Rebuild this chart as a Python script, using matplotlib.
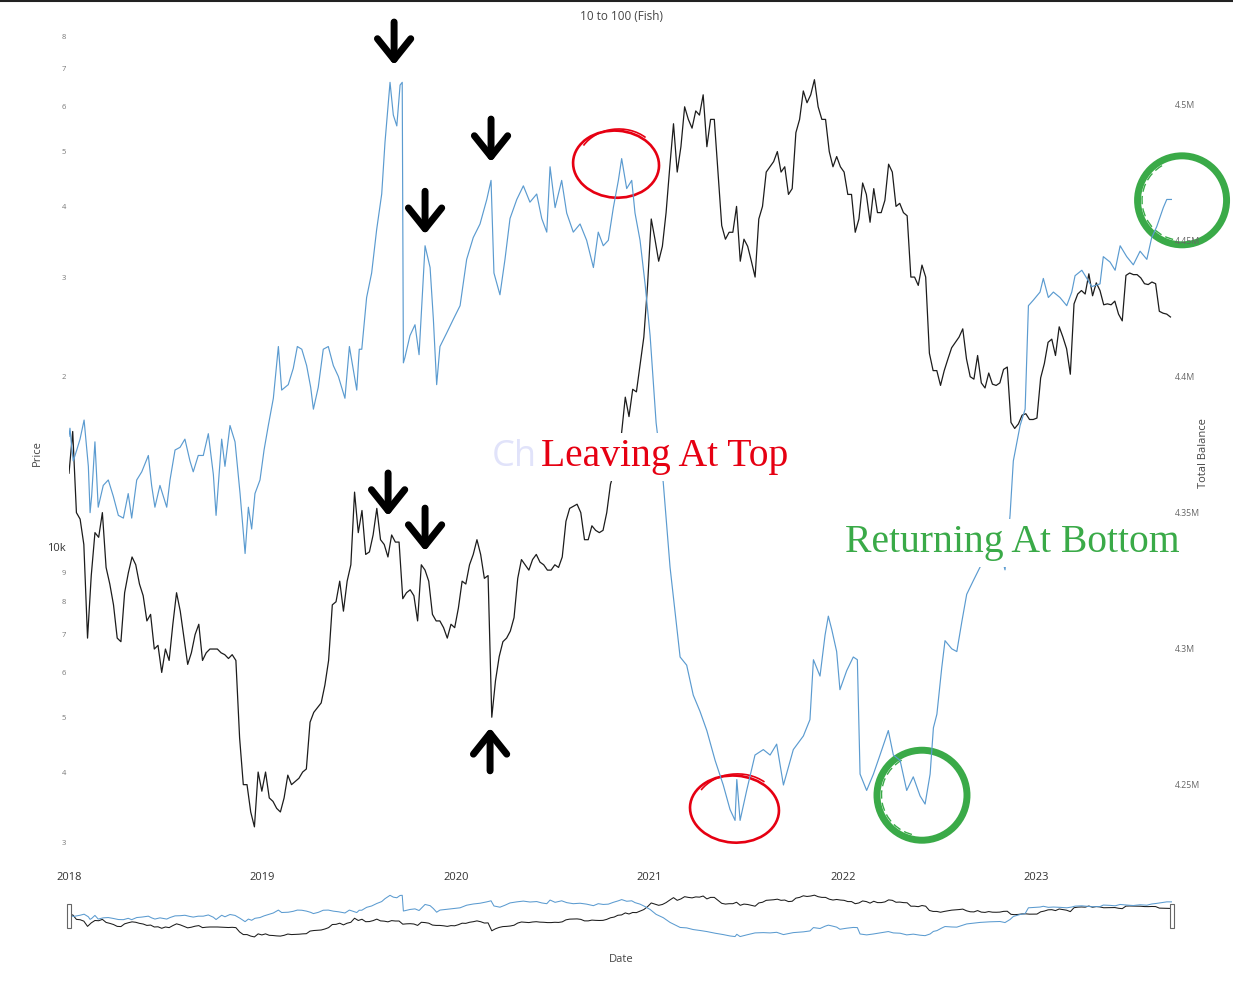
import numpy as np
import pandas as pd
import matplotlib
matplotlib.use('Agg')
import matplotlib.pyplot as plt
from matplotlib.patches import Ellipse, Arc, Rectangle
from matplotlib.transforms import ScaledTranslation
from matplotlib.ticker import FixedLocator, FixedFormatter, NullLocator
from matplotlib.lines import Line2D

plt.rcParams['font.family'] = ['Open Sans', 'DejaVu Sans']

# Price (USD), weekly, one list per year (Mondays)
year_starts = ['2018-01-01', '2019-01-07', '2020-01-06', '2021-01-04', '2022-01-03', '2023-01-02']
price_2018 = [13500, 16000, 11500, 11200, 10100, 6900, 8900, 10600, 10400, 11500, 9200, 8600, 7900,
              6900, 6800, 8300, 9000, 9600, 9300, 8600, 8200, 7400, 7600, 6600, 6700, 6000,
              6600, 6300, 7300, 8300, 7700, 6900, 6200, 6500, 7000, 7300, 6300, 6500, 6600,
              6600, 6600, 6500, 6450, 6350, 6450, 6300, 4600, 3800, 3800, 3400, 3200, 4000, 3700]
price_2019 = [4000, 3600, 3550, 3450, 3400, 3600, 3950, 3800, 3850, 3900, 4000, 4050,
              4900, 5100, 5200, 5300, 5700, 6300, 7900, 8000, 8700, 7700, 8700, 9300, 12500,
              10600, 11600, 9700, 9800, 10500, 11700, 10300, 10100, 9600, 10500, 10200, 10200,
              8100, 8300, 8400, 8200, 7400, 9300, 9100, 8700, 7600, 7400, 7400, 7200, 6900, 7300, 7200]
price_2020 = [7800, 8700, 8600, 9300, 9700, 10300, 9700, 8800, 8900, 5000, 5800, 6400, 6800,
              6900, 7100, 7500, 8800, 9500, 9300, 9100, 9500, 9700, 9400, 9300, 9100, 9100,
              9300, 9200, 9600, 11100, 11700, 11800, 11900, 11500, 10300, 10300, 10900, 10700,
              10600, 10700, 11500, 12900, 13600, 15500, 15900, 18400, 17000, 19000, 18800,
              21000, 23500, 29000]
price_2021 = [38000, 35000, 32000, 34000, 39000, 47000, 56000, 46000, 51000, 60000, 57000,
              55000, 59000, 58000, 63000, 51000, 57000, 57000, 46000, 37000, 35000, 36000,
              36000, 40000, 32000, 35000, 34000, 32000, 30000, 38000, 40000, 46000, 47000,
              48000, 50000, 46000, 47000, 42000, 43000, 54000, 57000, 64000, 61000, 63000,
              67000, 60000, 57000, 57000, 50000, 47000, 49000, 47000]
price_2022 = [46000, 42000, 42000, 36000, 38000, 44000, 42000, 37500, 43000, 39000, 39000,
              41000, 47500, 46000, 40000, 40500, 39000, 38500, 30000, 30000, 29000, 31500,
              30000, 22000, 20500, 20500, 19300, 20500, 21500, 22500, 23000, 23500, 24300,
              21500, 20000, 19800, 21800, 19500, 19100, 20300, 19400, 19300, 19500, 20600,
              20800, 16600, 16200, 16500, 17100, 17200, 16800, 16800]
price_2023 = [16900, 19900, 21100, 23000, 23300, 21800, 24500, 23500, 22400, 20200, 26900,
              28000, 28400, 28000, 30400, 27800, 29300, 28400, 26800, 26900, 26800, 27200,
              25800, 25100, 30200, 30500, 30300, 30300, 29900, 29200, 29100, 29400, 29200,
              26100, 25900, 25800, 25500]

# Total balance (millions), (decimal year, value)
balance_2018 = [(2018.000, 4.378), (2018.005, 4.381), (2018.014, 4.374), (2018.022, 4.369),
                (2018.040, 4.373), (2018.057, 4.377), (2018.078, 4.384), (2018.100, 4.367),
                (2018.109, 4.350), (2018.117, 4.356), (2018.134, 4.376), (2018.151, 4.352),
                (2018.177, 4.360), (2018.203, 4.362), (2018.229, 4.356), (2018.255, 4.349),
                (2018.281, 4.348), (2018.306, 4.357), (2018.324, 4.348), (2018.350, 4.362),
                (2018.376, 4.365), (2018.410, 4.371), (2018.427, 4.360), (2018.444, 4.352),
                (2018.470, 4.360), (2018.505, 4.352), (2018.522, 4.362), (2018.548, 4.373),
                (2018.574, 4.374), (2018.599, 4.377), (2018.625, 4.369), (2018.642, 4.365),
                (2018.668, 4.371), (2018.694, 4.371), (2018.720, 4.379), (2018.746, 4.364),
                (2018.760, 4.349), (2018.789, 4.377), (2018.806, 4.367), (2018.832, 4.382),
                (2018.858, 4.376), (2018.884, 4.357), (2018.910, 4.335), (2018.927, 4.352),
                (2018.944, 4.344), (2018.961, 4.357), (2018.987, 4.362)]
balance_2019 = [(2019.008, 4.373), (2019.030, 4.382), (2019.056, 4.392), (2019.082, 4.411),
                (2019.099, 4.395), (2019.133, 4.397), (2019.159, 4.403), (2019.180, 4.411),
                (2019.203, 4.410), (2019.228, 4.404), (2019.249, 4.396), (2019.263, 4.388),
                (2019.288, 4.396), (2019.314, 4.410), (2019.340, 4.411), (2019.366, 4.404),
                (2019.392, 4.400), (2019.426, 4.392), (2019.449, 4.411), (2019.487, 4.395),
                (2019.500, 4.410), (2019.513, 4.410), (2019.538, 4.429), (2019.564, 4.438),
                (2019.590, 4.454), (2019.616, 4.467), (2019.633, 4.486), (2019.659, 4.508),
                (2019.676, 4.496), (2019.694, 4.492), (2019.711, 4.507), (2019.722, 4.508),
                (2019.728, 4.405), (2019.736, 4.407), (2019.762, 4.415), (2019.788, 4.419),
                (2019.809, 4.408), (2019.840, 4.448), (2019.866, 4.440), (2019.883, 4.421),
                (2019.900, 4.397), (2019.917, 4.411), (2019.952, 4.416), (2019.986, 4.421)]
balance_2020 = [(2020.021, 4.426), (2020.055, 4.443), (2020.089, 4.451), (2020.124, 4.456),
                (2020.159, 4.465), (2020.181, 4.472), (2020.196, 4.438), (2020.227, 4.430),
                (2020.253, 4.443), (2020.279, 4.458), (2020.314, 4.465), (2020.348, 4.470),
                (2020.382, 4.464), (2020.417, 4.467), (2020.443, 4.458), (2020.469, 4.453),
                (2020.486, 4.477), (2020.512, 4.462), (2020.546, 4.472), (2020.572, 4.460),
                (2020.606, 4.453), (2020.641, 4.456), (2020.675, 4.450), (2020.710, 4.440),
                (2020.735, 4.453), (2020.761, 4.448), (2020.787, 4.450), (2020.813, 4.462),
                (2020.839, 4.472), (2020.856, 4.480), (2020.882, 4.469), (2020.908, 4.472),
                (2020.925, 4.460), (2020.951, 4.450), (2020.977, 4.434)]
balance_2021 = [(2021.003, 4.415), (2021.034, 4.383), (2021.071, 4.361), (2021.106, 4.330),
                (2021.158, 4.297), (2021.192, 4.294), (2021.226, 4.283), (2021.261, 4.277),
                (2021.296, 4.270), (2021.339, 4.259), (2021.381, 4.250), (2021.416, 4.241),
                (2021.442, 4.237), (2021.451, 4.252), (2021.468, 4.237), (2021.502, 4.248),
                (2021.545, 4.261), (2021.588, 4.263), (2021.623, 4.261), (2021.657, 4.265),
                (2021.692, 4.250), (2021.743, 4.263), (2021.795, 4.268), (2021.829, 4.274),
                (2021.847, 4.296), (2021.881, 4.290), (2021.907, 4.305), (2021.924, 4.312),
                (2021.942, 4.307), (2021.967, 4.299), (2021.984, 4.285)]
balance_2022 = [(2022.019, 4.292), (2022.053, 4.297), (2022.074, 4.296), (2022.088, 4.254),
                (2022.122, 4.248), (2022.157, 4.254), (2022.191, 4.261), (2022.234, 4.270),
                (2022.260, 4.261), (2022.295, 4.259), (2022.329, 4.248), (2022.363, 4.253),
                (2022.398, 4.246), (2022.424, 4.243), (2022.450, 4.254), (2022.467, 4.271),
                (2022.485, 4.276), (2022.510, 4.293), (2022.527, 4.303), (2022.562, 4.300),
                (2022.588, 4.299), (2022.614, 4.310), (2022.639, 4.320), (2022.673, 4.325),
                (2022.708, 4.330), (2022.760, 4.334), (2022.811, 4.336), (2022.837, 4.329),
                (2022.863, 4.349), (2022.880, 4.369), (2022.915, 4.382), (2022.941, 4.388),
                (2022.958, 4.426), (2022.983, 4.428)]
balance_2023 = [(2023.018, 4.431), (2023.035, 4.436), (2023.061, 4.429), (2023.087, 4.431),
                (2023.121, 4.429), (2023.156, 4.426), (2023.182, 4.431), (2023.199, 4.437),
                (2023.234, 4.439), (2023.260, 4.436), (2023.285, 4.433), (2023.328, 4.434),
                (2023.345, 4.444), (2023.380, 4.442), (2023.406, 4.439), (2023.432, 4.448),
                (2023.466, 4.444), (2023.500, 4.441), (2023.535, 4.446), (2023.570, 4.443),
                (2023.595, 4.451), (2023.621, 4.455), (2023.655, 4.462), (2023.673, 4.465),
                (2023.699, 4.465)]

price_ticks = [3000, 4000, 5000, 6000, 7000, 8000, 9000, 10000,
               20000, 30000, 40000, 50000, 60000, 70000, 80000]
price_labels = ['3', '4', '5', '6', '7', '8', '9', '10k', '2', '3', '4', '5', '6', '7', '8']
balance_ticks = [4.25, 4.30, 4.35, 4.40, 4.45, 4.50]
balance_labels = ['4.25M', '4.3M', '4.35M', '4.4M', '4.45M', '4.5M']
year_ticks = [2018, 2019, 2020, 2021, 2022, 2023]

# annotation spots (decimal year, price)
down_arrows = [(2019.680, 71100), (2019.840, 35700), (2020.181, 47900),
               (2019.649, 11340), (2019.840, 9830)]
up_arrows = [(2020.176, 4790)]
red_rings = [(2020.827, 47500, 86, 67), (2021.439, 3440, 89, 67)]
green_rings = [(2023.752, 41000, 89, 89), (2022.408, 3640, 90, 90)]

# build series
price = np.concatenate([price_2018, price_2019, price_2020, price_2021, price_2022, price_2023])
dates = pd.DatetimeIndex([])
for start, vals in zip(year_starts, [price_2018, price_2019, price_2020,
                                     price_2021, price_2022, price_2023]):
    dates = dates.append(pd.date_range(start, periods=len(vals), freq='7D'))
price_t = 2018 + np.asarray((dates - pd.Timestamp('2018-01-01')).days) / 365.25

bal = balance_2018 + balance_2019 + balance_2020 + balance_2021 + balance_2022 + balance_2023
bal_t = np.array([b[0] for b in bal])
bal_v = np.array([b[1] for b in bal])

BLACK = '#1c1c1c'
BLUE = '#5b9bd0'
RED = '#e60012'
GREEN = '#3aaa48'
PRICE_LIM = (2688, 80200)
BAL_LIM = (4.2189, 4.5252)
X_LIM = (2018.0, 2023.70)

fig = plt.figure(figsize=(12.33, 9.92), dpi=100)
ax = fig.add_axes([0.05596, 0.12329, 0.89457, 0.84092])
ax2 = ax.twinx()

ax.plot(price_t, price, color=BLACK, lw=0.9)
ax2.plot(bal_t, bal_v, color=BLUE, lw=0.85)

ax.set_yscale('log')
ax.set_ylim(*PRICE_LIM)
ax2.set_ylim(*BAL_LIM)
ax.set_xlim(*X_LIM)

ax.yaxis.set_major_locator(FixedLocator(price_ticks))
ax.yaxis.set_major_formatter(FixedFormatter(price_labels))
ax.yaxis.set_minor_locator(NullLocator())
ax.tick_params(axis='y', length=0, pad=2)
for lbl in ax.get_yticklabels():
    if lbl.get_text() == '10k':
        lbl.set_fontsize(8)
        lbl.set_color('#333333')
    else:
        lbl.set_fontsize(5.5)
        lbl.set_color('#777777')

ax2.set_yticks(balance_ticks)
ax2.set_yticklabels(balance_labels, fontsize=6.3, color='#666666')
ax2.tick_params(axis='y', length=0, pad=2)

ax.set_xticks(year_ticks)
ax.set_xticklabels([str(y) for y in year_ticks], fontsize=8, color='#333333')
ax.tick_params(axis='x', length=0, pad=1.5)

for a in (ax, ax2):
    for s in a.spines.values():
        s.set_visible(False)

# overlays drawn on the top axes, positioned in price coordinates
for t, p in down_arrows + up_arrows:
    dy = -31 if (t, p) in up_arrows else 31
    ax2.annotate('', xy=(t, p), xycoords=ax.transData, xytext=(0, dy),
                 textcoords='offset points', annotation_clip=False,
                 arrowprops=dict(arrowstyle='->,head_length=15,head_width=12',
                                 mutation_scale=1, lw=5, color='black',
                                 shrinkA=0, shrinkB=0, capstyle='round',
                                 joinstyle='round'))


def ring_transform(t, p):
    return fig.dpi_scale_trans + ScaledTranslation(t, p, ax.transData)


def red_ring(t, p, w, h):
    tr = ring_transform(t, p)
    ax2.add_patch(Ellipse((0, 0), w / 100, h / 100, angle=-4, transform=tr, fill=False,
                          ec=RED, lw=1.9, clip_on=False))
    # overlapping end of the pen stroke
    ax2.add_patch(Arc((0.02, 0.01), w * 0.95 / 100, h * 1.02 / 100, angle=3,
                      theta1=40, theta2=150, transform=tr, ec=RED, lw=1.2, clip_on=False))


def green_ring(t, p, w, h):
    tr = ring_transform(t, p)
    ax2.add_patch(Ellipse((0, 0), w / 100, h / 100, transform=tr, fill=False,
                          ec=GREEN, lw=5.0, clip_on=False))
    ax2.add_patch(Arc((0, 0), w * 0.9 / 100, h * 0.9 / 100, angle=10, theta1=110,
                      theta2=250, transform=tr, ec=GREEN, lw=1.0, ls=(0, (6, 3)),
                      clip_on=False))


for t, p, w, h in red_rings:
    red_ring(t, p, w, h)
for t, p, w, h in green_rings:
    green_ring(t, p, w, h)

serif = ['Liberation Serif', 'DejaVu Serif']
ax2.annotate('Leaving At Top', xy=(2021.0775, 13900), xycoords=ax.transData,
             ha='center', va='baseline', fontsize=28.5, color=RED, family=serif,
             bbox=dict(fc='white', ec='none', pad=4), annotation_clip=False)
ax2.annotate('Ch', xy=(2020.4186, 13900), xycoords=ax.transData,
             ha='right', va='baseline', fontsize=26, color='#e1e3fa',
             annotation_clip=False)
ax2.annotate('Returning At Bottom', xy=(2022.873, 9790), xycoords=ax.transData,
             ha='center', va='baseline', fontsize=28.5, color=GREEN, family=serif,
             bbox=dict(fc='white', ec='none', pad=4), annotation_clip=False)

# range slider
axs = fig.add_axes([0.05596, 0.0531, 0.89457, 0.0470])
axs2 = axs.twinx()
axs.plot(price_t, price, color=BLACK, lw=0.75)
axs2.plot(bal_t, bal_v, color=BLUE, lw=0.75)
axs.set_yscale('log')
axs.set_ylim(*PRICE_LIM)
axs2.set_ylim(*BAL_LIM)
axs.set_xlim(*X_LIM)
for a in (axs, axs2):
    a.set_xticks([])
    a.set_yticks([])
    a.yaxis.set_minor_locator(NullLocator())
    for s in a.spines.values():
        s.set_visible(False)
for xh in (-0.0018, 0.9982):
    axs2.add_patch(Rectangle((xh, 0.2425), 0.0036, 0.515, transform=axs2.transAxes,
                             fc='white', ec='#666666', lw=0.8, clip_on=False, zorder=5))

# titles and axis names
fig.text(621 / 1233, 1 - 17 / 992, '10 to 100 (Fish)', ha='center', va='center',
         fontsize=8.5, color='#444444')
fig.text(37 / 1233, 1 - 453 / 992, 'Price', ha='center', va='center', rotation=90,
         fontsize=8, color='#444444')
fig.text(1203 / 1233, 1 - 453 / 992, 'Total Balance', ha='center', va='center',
         rotation=90, fontsize=8, color='#444444',
         family=['Liberation Sans Narrow', 'Open Sans', 'DejaVu Sans'])
fig.text(621 / 1233, 1 - 959 / 992, 'Date', ha='center', va='center',
         fontsize=8, color='#444444')

fig.add_artist(Line2D([0, 1], [0.9992, 0.9992], transform=fig.transFigure,
                      color='#222222', lw=1.5))

fig.savefig('out.png', dpi=100)
